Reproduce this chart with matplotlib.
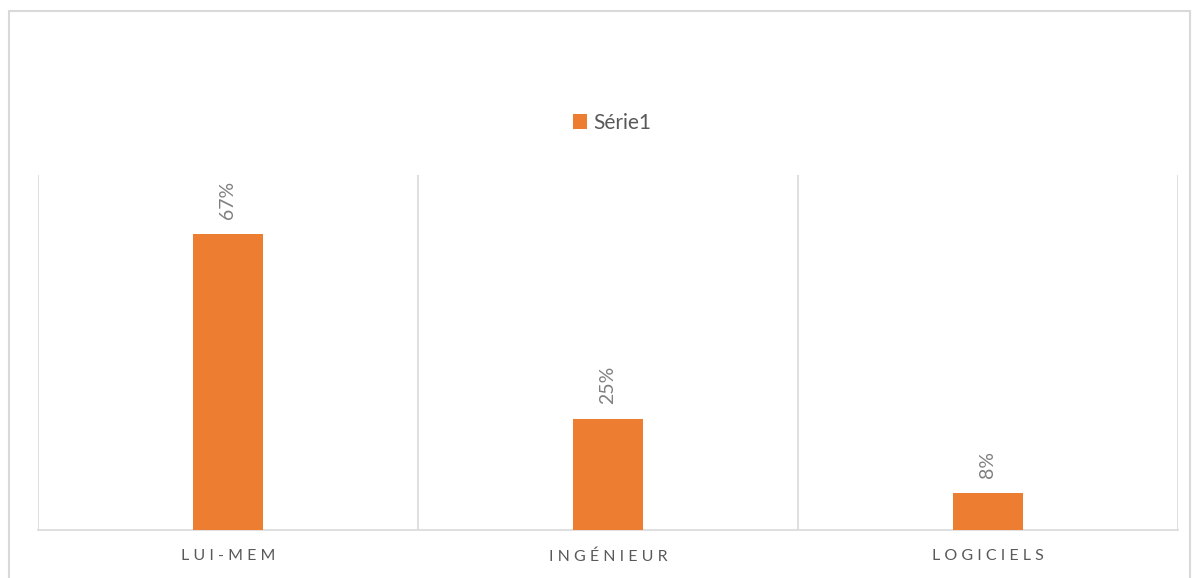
import matplotlib.pyplot as plt
from matplotlib.patches import Rectangle

categories = ['LUI-MEM', 'INGÉNIEUR', 'LOGICIELS']
values = [0.667, 0.25, 0.083]
value_labels = ['67%', '25%', '8%']
series_name = 'Série1'

plt.rcParams['font.family'] = ['Lato', 'DejaVu Sans']

fig = plt.figure(figsize=(11.97, 5.78), dpi=100)
# outer chart border
fig.patches.append(Rectangle((9 / 1197, -0.01), 1181 / 1197, 1 - 11 / 578 + 0.01,
                             transform=fig.transFigure, fill=False,
                             edgecolor='#d9d9d9', linewidth=1.5))

ax = fig.add_axes([38 / 1197, 48 / 578, 1140 / 1197, 355 / 578])
x = range(len(categories))
bars = ax.bar(x, values, width=0.183, color='#ed7d31', label=series_name, zorder=3)

ax.set_xlim(-0.5, len(categories) - 0.5)
ax.set_ylim(0, 0.8)

# category separators
for b in [-0.5, 0.5, 1.5, 2.5]:
    ax.axvline(b, color='#d9d9d9', linewidth=1.2, zorder=1)

for rect, lab in zip(bars, value_labels):
    ax.annotate(lab, (rect.get_x() + rect.get_width() / 2, rect.get_height()),
                xytext=(0, 11), textcoords='offset points', rotation=90,
                ha='center', va='bottom', color='#7f7f7f', fontsize=14)

for s in ['top', 'left', 'right']:
    ax.spines[s].set_visible(False)
ax.spines['bottom'].set_color('#d9d9d9')
ax.spines['bottom'].set_linewidth(1.2)
ax.set_yticks([])
ax.set_xticks(list(x))
ax.set_xticklabels([' '.join(c) for c in categories], color='#595959', fontsize=11.5)
ax.tick_params(axis='x', length=0, pad=14)

fig.legend(loc='center', bbox_to_anchor=(612 / 1197, 1 - 123 / 578), frameon=False,
           fontsize=15, handlelength=0.7, handleheight=0.7, handletextpad=0.3,
           labelcolor='#595959')

fig.savefig('out.png', dpi=100)
